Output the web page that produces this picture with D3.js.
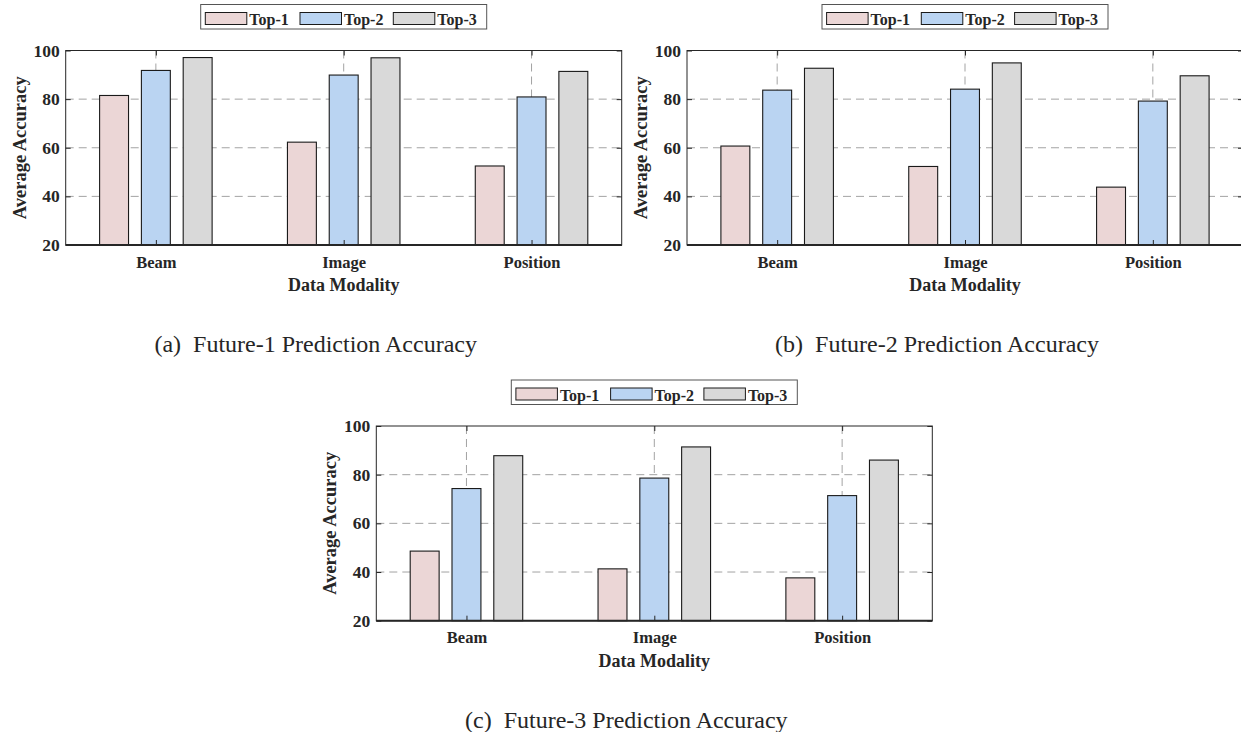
<!DOCTYPE html>
<html>
<head>
<meta charset="utf-8">
<script src="https://cdn.jsdelivr.net/npm/d3@7"></script>
<style>
  body { margin: 0; background: #fff; overflow: hidden; }
  svg { display: block; }
  text { font-family: "Liberation Serif", "DejaVu Serif", serif; fill: #262626; }
</style>
</head>
<body>
<svg id="fig" width="1241" height="732"></svg>
<script>
// data
const categories = ["Beam", "Image", "Position"];
const seriesNames = ["Top-1", "Top-2", "Top-3"];
const yTicks = [20, 40, 60, 80, 100];

const future1 = [
  [81.5, 62.3, 52.5],   // Top-1
  [91.8, 89.9, 80.9],   // Top-2
  [97.1, 97.0, 91.4]    // Top-3
];
const future2 = [
  [60.7, 52.3, 43.8],
  [83.7, 84.1, 79.2],
  [92.7, 94.9, 89.6]
];
const future3 = [
  [48.6, 41.3, 37.6],
  [74.3, 78.6, 71.4],
  [87.8, 91.4, 86.0]
];
const captions = [
  "(a)  Future-1 Prediction Accuracy",
  "(b)  Future-2 Prediction Accuracy",
  "(c)  Future-3 Prediction Accuracy"
];

const colors = ["#ebd6d6", "#bad4f2", "#d9d9d9"];

const svg = d3.select("#fig");

function drawPanel(vals, caption, box) {
  const { left, right, top, bottom } = box;
  const g = svg.append("g");

  const x = d3.scaleLinear().domain([0.52, 3.48]).range([left, right]);
  const y = d3.scaleLinear().domain([20, 100]).range([bottom, top]);

  const barW = 0.154;      // in x units
  const step = 0.2225;

  // grid lines (dashed)
  g.selectAll(".hgrid")
    .data(yTicks.filter(t => t > 20 && t < 100))
    .enter().append("line")
    .attr("x1", left).attr("x2", right)
    .attr("y1", d => y(d)).attr("y2", d => y(d))
    .attr("stroke", "#a3a3a3").attr("stroke-width", 1)
    .attr("stroke-dasharray", "8,5");

  g.selectAll(".vgrid")
    .data([1, 2, 3])
    .enter().append("line")
    .attr("x1", d => x(d)).attr("x2", d => x(d))
    .attr("y1", top).attr("y2", bottom)
    .attr("stroke", "#a3a3a3").attr("stroke-width", 1)
    .attr("stroke-dasharray", "8,5");

  // bars
  vals.forEach((series, si) => {
    g.selectAll(".bar" + si)
      .data(series)
      .enter().append("rect")
      .attr("x", (d, i) => x(i + 1 + (si - 1) * step - barW / 2))
      .attr("width", x(barW) - x(0))
      .attr("y", d => y(d))
      .attr("height", d => y(20) - y(d))
      .attr("fill", colors[si])
      .attr("stroke", "#1a1a1a")
      .attr("stroke-width", 1.1);
  });

  // axes, ticks pointing inside
  const yAxis = g.append("g")
    .attr("transform", "translate(" + left + ",0)")
    .call(d3.axisLeft(y).tickValues(yTicks).tickSize(-5).tickSizeOuter(0).tickPadding(6));
  yAxis.selectAll("text").style("font-size", "17.5px").style("font-weight", "bold");

  g.append("g")
    .attr("transform", "translate(" + right + ",0)")
    .call(d3.axisRight(y).tickValues(yTicks).tickSize(-5).tickSizeOuter(0).tickFormat(""));

  const xAxis = g.append("g")
    .attr("transform", "translate(0," + bottom + ")")
    .call(d3.axisBottom(x).tickValues([1, 2, 3]).tickFormat(d => categories[d - 1])
      .tickSize(-5).tickSizeOuter(0).tickPadding(11));
  xAxis.selectAll("text").style("font-size", "16.5px").style("font-weight", "bold");

  g.append("g")
    .attr("transform", "translate(0," + top + ")")
    .call(d3.axisTop(x).tickValues([1, 2, 3]).tickSize(-5).tickSizeOuter(0).tickFormat(""));

  g.selectAll(".domain").remove();
  g.selectAll(".tick line").attr("stroke", "#262626");

  // box
  g.append("rect")
    .attr("x", left).attr("y", top)
    .attr("width", right - left).attr("height", bottom - top)
    .attr("fill", "none").attr("stroke", "#262626").attr("stroke-width", 1);
  g.append("line")
    .attr("x1", left).attr("x2", right)
    .attr("y1", bottom).attr("y2", bottom)
    .attr("stroke", "#262626").attr("stroke-width", 2);

  // axis titles
  g.append("text")
    .attr("transform", "translate(" + (left - 46) + "," + (top + bottom) / 2 + ") rotate(-90)")
    .attr("text-anchor", "middle")
    .attr("dominant-baseline", "central")
    .style("font-size", "18.5px").style("font-weight", "bold")
    .text("Average Accuracy");

  g.append("text")
    .attr("x", (left + right) / 2).attr("y", bottom + 46)
    .attr("text-anchor", "middle")
    .style("font-size", "18px").style("font-weight", "bold")
    .text("Data Modality");

  // legend
  const cx = (left + right) / 2;
  const lg = g.append("g").attr("transform", "translate(" + (cx - 143) + "," + (top - 46) + ")");
  lg.append("rect")
    .attr("width", 286).attr("height", 24.5)
    .attr("fill", "#fff").attr("stroke", "#555").attr("stroke-width", 1);
  const itemX = [4.6, 99.3, 192.6];
  seriesNames.forEach((name, i) => {
    lg.append("rect")
      .attr("x", itemX[i]).attr("y", 8)
      .attr("width", 41.5).attr("height", 12)
      .attr("fill", colors[i]).attr("stroke", "#1a1a1a").attr("stroke-width", 1);
    lg.append("text")
      .attr("x", itemX[i] + 44).attr("y", 20.5)
      .style("font-size", "16px").style("font-weight", "bold")
      .text(name);
  });

  // caption
  g.append("text")
    .attr("x", left + 250).attr("y", bottom + 107)
    .attr("text-anchor", "middle")
    .style("font-size", "24px")
    .style("white-space", "pre")
    .text(caption);
}

drawPanel(future1, captions[0], { left: 65.7, right: 621.7, top: 50.5, bottom: 245 });
drawPanel(future2, captions[1], { left: 687, right: 1243, top: 50.5, bottom: 245 });
drawPanel(future3, captions[2], { left: 376.3, right: 932.3, top: 426, bottom: 620.7 });
</script>
</body>
</html>
